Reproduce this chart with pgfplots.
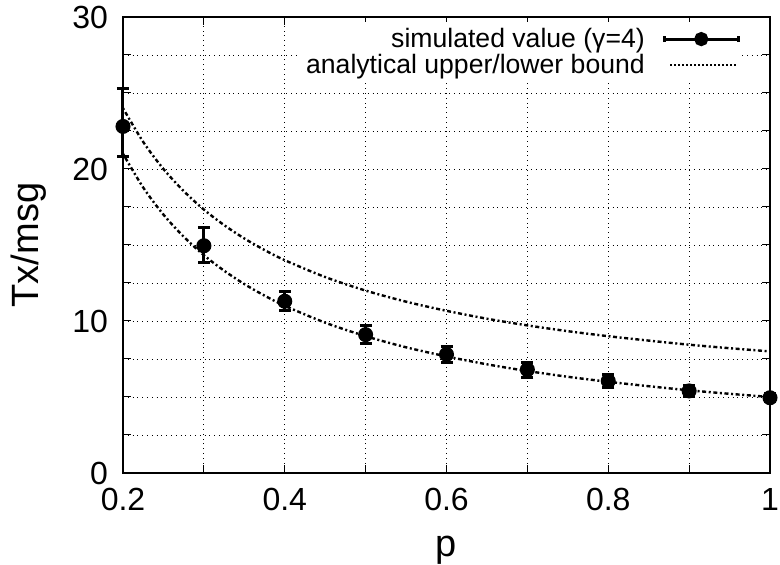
\documentclass[border=0pt]{standalone}
\usepackage{fontspec}
\setmainfont{Liberation Sans}
\usepackage{pgfplots}
\pgfplotsset{compat=1.18}
\begin{document}
\begin{tikzpicture}
\begin{axis}[
  scale only axis, width=323.5pt, height=228pt,
  xmin=0.2, xmax=1, ymin=0, ymax=30, clip=false,
  xtick={0.2,0.4,0.6,0.8,1}, xticklabels={0.2,0.4,0.6,0.8,1},
  minor xtick={0.3,0.5,0.7,0.9},
  ytick={0,10,20,30}, yticklabels={0,10,20,30},
  minor ytick={2.5,5,7.5,12.5,15,17.5,22.5,25,27.5},
  grid=both,
  major grid style={black, line width=0.4pt, dotted},
  minor grid style={black, line width=0.4pt, dotted},
  axis line style={line width=0.8pt},
  major tick length=4pt, minor tick length=4pt,
  tick style={black, line width=0.5pt},
  xticklabel style={font=\fontsize{16}{18}\selectfont, yshift=-4pt},
  yticklabel style={font=\fontsize{16}{18}\selectfont, xshift=-4pt},
  xlabel={p}, ylabel={Tx/msg},
  xlabel style={font=\fontsize{19}{22}\selectfont, yshift=-6pt},
  ylabel style={font=\fontsize{19}{22}\selectfont, yshift=6pt},
  legend style={at={(rel axis cs:0.957,0.99)}, anchor=north east, draw=none, fill=white,
    font=\fontsize{13.3}{15}\selectfont, row sep=-2pt, inner sep=1pt},
  legend cell align=right,
  legend plot pos=right,
]
\coordinate (sw) at (rel axis cs:0,0);
\coordinate (ne) at (rel axis cs:1,1);
\addplot[black, line width=1.5pt, mark=*, mark size=3pt, only marks,
  legend image code/.code={
    \path (0pt,0pt);
    \draw[line width=1.5pt] (7pt,0pt) -- (44pt,0pt);
    \draw[line width=1.5pt] (7pt,-1.5pt) -- (7pt,1.5pt);
    \draw[line width=1.5pt] (44pt,-1.5pt) -- (44pt,1.5pt);
    \fill (25.5pt,0pt) circle (2.8pt);
  },
  error bars/.cd, y dir=both, y explicit,
  error bar style={line width=1.5pt},
  error mark options={rotate=90, mark size=3pt, line width=1.5pt}]
coordinates {
 (0.2,22.8) += (0,2.5) -= (0,2.0)
 (0.3,14.95) += (0,1.2) -= (0,1.1)
 (0.4,11.3) += (0,0.65) -= (0,0.6)
 (0.5,9.1) += (0,0.6) -= (0,0.55)
 (0.6,7.8) += (0,0.5) -= (0,0.5)
 (0.7,6.8) += (0,0.45) -= (0,0.5)
 (0.8,6.05) += (0,0.45) -= (0,0.45)
 (0.9,5.4) += (0,0.35) -= (0,0.35)
 (1.0,4.95) += (0,0.25) -= (0,0.25)
};
\addlegendentry{simulated value (γ=4)}
\addplot[black, line width=1.2pt, dash pattern=on 1pt off 1.3pt on 2pt off 1.3pt, smooth,
  legend image code/.code={\path (0pt,0pt); \draw[line width=0.9pt, dash pattern=on 1pt off 1pt] (10pt,0pt) -- (43pt,0pt);}]
coordinates {
 (0.2,24.0) (0.225,21.78) (0.25,20.0) (0.275,18.55) (0.3,17.33) (0.325,16.31)
 (0.35,15.43) (0.375,14.67) (0.4,14.0) (0.45,12.89) (0.5,12.0) (0.55,11.27)
 (0.6,10.67) (0.65,10.15) (0.7,9.71) (0.75,9.33) (0.8,9.0) (0.85,8.71)
 (0.9,8.44) (0.95,8.21) (1.0,8.0)
};
\addlegendentry{analytical upper/lower bound}
\addplot[black, line width=1.2pt, dash pattern=on 1pt off 1.3pt on 2pt off 1.3pt, smooth, forget plot]
coordinates {
 (0.2,21.0) (0.225,18.78) (0.25,17.0) (0.275,15.55) (0.3,14.33) (0.325,13.31)
 (0.35,12.43) (0.375,11.67) (0.4,11.0) (0.45,9.89) (0.5,9.0) (0.55,8.27)
 (0.6,7.67) (0.65,7.15) (0.7,6.71) (0.75,6.33) (0.8,6.0) (0.85,5.71)
 (0.9,5.44) (0.95,5.21) (1.0,5.0)
};
\end{axis}
\pgfresetboundingbox
\path ([shift={(-61.5pt,-46pt)}]sw) rectangle ([shift={(5pt,8.5pt)}]ne);
\end{tikzpicture}
\end{document}
